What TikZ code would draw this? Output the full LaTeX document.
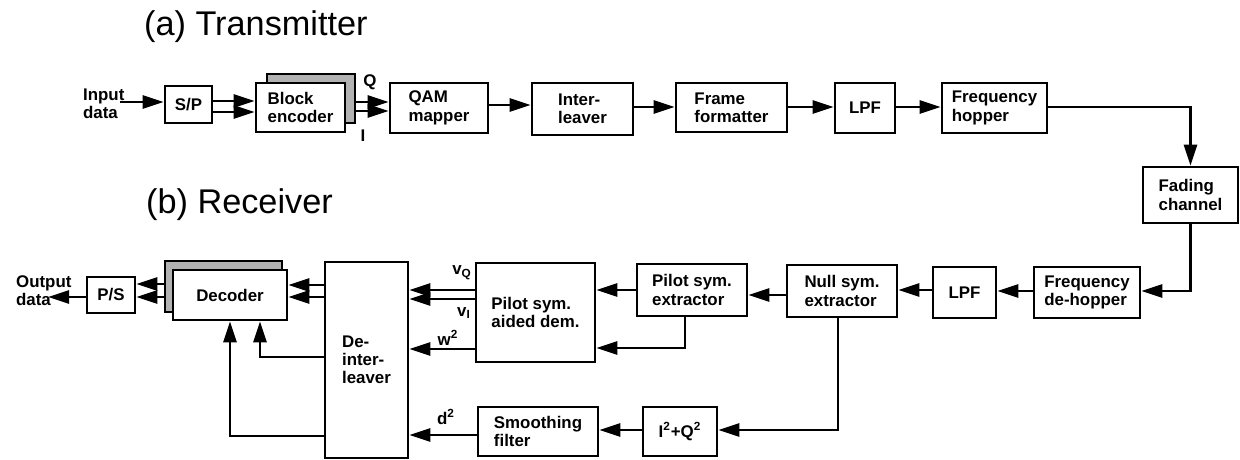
\documentclass[tikz,border=0pt]{standalone}
\usepackage{fontspec}
\setmainfont{Liberation Sans}
\usetikzlibrary{positioning,arrows.meta}

\begin{document}
\begin{tikzpicture}[x=0.2mm, y=-0.2mm, line width=1.5pt,
  font=\bfseries\fontsize{9.6}{10.4}\selectfont,
  sz/.style 2 args={minimum width=#1*0.2mm, minimum height=#2*0.2mm},
  blk/.style={draw, fill=white, align=left, inner sep=0pt},
  shd/.style={draw, fill=black!30, line width=0.6pt, inner sep=0pt},
  arr/.style={-{Triangle[length=4.2mm,width=2.6mm]}},
  ttl/.style={anchor=base west, font=\fontsize{19.5}{22}\selectfont}]
  \useasboundingbox (0,0) rectangle (1240,460);
  \node[ttl] (ta) at (137,36) {(a) Transmitter};
  \node[ttl] (tb) at (139,214) {(b) Receiver};
  % transmitter
  \node[anchor=west, align=left] (in) at (76,104) {Input\\data};
  \node[blk, sz={47}{37}] (sp) at (188.5,104.5) {S/P};
  \node[shd, sz={88}{49}] (encs) at (311,98.5) {};
  \node[blk, sz={89}{49}] (enc) at (300.5,107.5) {Block\\encoder};
  \node[blk, sz={98}{50}] (qam) at (439,108) {QAM\\mapper};
  \node[blk, sz={101}{52}] (intl) at (582.5,109) {Inter-\\leaver};
  \node[blk, sz={111}{49}] (frm) at (731.5,107.5) {Frame\\formatter};
  \node[blk, sz={60}{50}] (lpfa) at (865,108) {LPF};
  \node[blk, sz={105}{50}] (hop) at (994.5,108) {Frequency\\hopper};
  \node[blk, sz={95}{56}] (fade) at (1190.5,195) {Fading\\channel};
  \node (lq) at (370,82) {Q};
  \node (li) at (363,136) {I};
  % receiver
  \node[blk, sz={106}{51}] (dehop) at (1087,292.5) {Frequency\\de-hopper};
  \node[blk, sz={63}{51}] (lpfb) at (964.5,292.5) {LPF};
  \node[blk, sz={110}{52}] (nul) at (842,291) {Null sym.\\extractor};
  \node[blk, sz={110}{52}] (pext) at (692,290) {Pilot sym.\\extractor};
  \node[blk, sz={119}{99}] (dem) at (535.5,312.5) {Pilot sym.\\aided dem.};
  \node[blk, sz={74}{49}] (sq) at (680,431.5) {I\textsuperscript{2}+Q\textsuperscript{2}};
  \node[blk, sz={120}{49}] (smf) at (538,431.5) {Smoothing\\filter};
  \node[blk, sz={83}{196}] (deint) at (366.5,360) {De-\\inter-\\leaver};
  \node[shd, sz={117}{51}] (decs) at (223.5,286.5) {};
  \node[blk, sz={114}{50}] (dec) at (230,295) {Decoder};
  \node[blk, sz={48}{36}] (ps) at (111,295) {P/S};
  \node[anchor=west, align=left] (out) at (9,291) {Output\\data};
  \node (lvq) at (462,273) {v\textsubscript{Q}};
  \node (lvi) at (464,313) {v\textsubscript{I}};
  \node (lw) at (448,338) {w\textsuperscript{2}};
  \node (ld) at (446,417) {d\textsuperscript{2}};
  % connectors
  \coordinate (inend) at (120,102);
  \draw[arr] (inend) -- (sp.west |- inend);
  \draw[arr] (sp.east |- 0,101) -- (enc.west |- 0,101);
  \draw[arr] (sp.east |- 0,112) -- (enc.west |- 0,112);
  \draw[arr] (encs.east |- 0,102) -- (qam.west |- 0,102);
  \draw[arr] (encs.east |- 0,111) -- (qam.west |- 0,111);
  \draw[arr] (qam.east |- 0,105) -- (intl.west |- 0,105);
  \draw[arr] (intl.east |- 0,107) -- (frm.west |- 0,107);
  \draw[arr] (frm.east |- 0,107) -- (lpfa.west |- 0,107);
  \draw[arr] (lpfa.east |- 0,107) -- (hop.west |- 0,107);
  \draw[arr] (hop.east |- 0,107) -| (fade.north);
  \draw[arr] (fade.south) |- (dehop.east |- 0,291);
  \draw[arr] (dehop.west |- 0,291) -- (lpfb.east |- 0,291);
  \draw[arr] (lpfb.west |- 0,290) -- (nul.east |- 0,290);
  \draw[arr] (nul.west |- 0,295) -- (pext.east |- 0,295);
  \draw[arr] (pext.west |- 0,290) -- (dem.east |- 0,290);
  \draw[arr] (pext.south -| 685,0) |- (dem.east |- 0,348);
  \draw[arr] (dem.west |- 0,290) -- (deint.east |- 0,290);
  \draw[arr] (dem.west |- 0,299) -- (deint.east |- 0,299);
  \draw[arr] (dem.west |- 0,349) -- (deint.east |- 0,349);
  \draw[arr] (nul.south -| 838,0) |- (sq.east |- 0,430);
  \draw[arr] (sq.west |- 0,430) -- (smf.east |- 0,430);
  \draw[arr] (smf.west |- 0,435) -- (deint.east |- 0,435);
  \draw[arr] (deint.west |- 0,285) -- (dec.east |- 0,285);
  \draw[arr] (deint.west |- 0,297) -- (dec.east |- 0,297);
  \draw[arr] (deint.west |- 0,357) -| (dec.south -| 260,0);
  \draw[arr] (deint.west |- 0,436) -| (dec.south -| 230,0);
  \draw[arr] (decs.west |- 0,284) -- (ps.east |- 0,284);
  \draw[arr] (decs.west |- 0,297) -- (ps.east |- 0,297);
  \coordinate (outtip) at (48,297);
  \draw[arr] (ps.west |- outtip) -- (outtip);
\end{tikzpicture}
\end{document}
